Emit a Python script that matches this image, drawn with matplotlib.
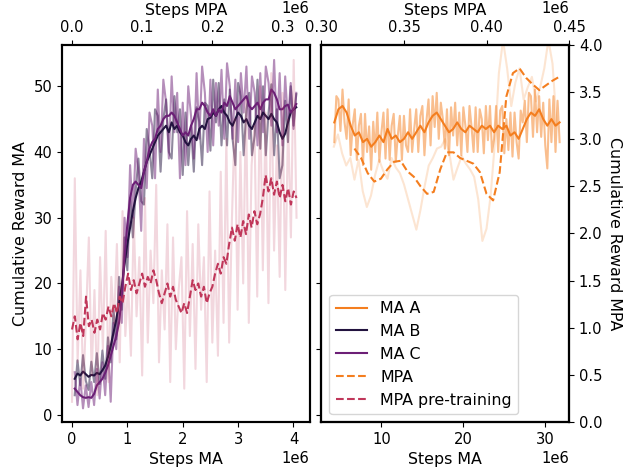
import numpy as np
import matplotlib
matplotlib.use('Agg')
import matplotlib.pyplot as plt

# ---- data (steps, rewards) ----
# left panel, MA agents (x: Steps MA, 0.05e6 .. 4.05e6)
ma_b_smooth = [5.5, 6.3, 6.0, 6.6, 6.2, 5.8, 6.1, 6.0, 6.4, 6.2,
               6.8, 7.5, 8.8, 10.5, 12.5, 14.5, 17.0, 19.5, 23.0, 26.0,
               28.5, 31.0, 33.0, 34.5, 35.5, 37.0, 38.5, 39.5, 40.5, 41.5,
               42.5, 43.0, 43.5, 44.0, 43.0, 44.5, 43.5, 44.0, 43.0, 42.5,
               41.5, 41.0, 42.0, 42.5, 41.8, 43.5, 44.0, 43.5, 45.0, 45.2,
               46.0, 45.5, 46.5, 47.0, 46.0, 45.5, 44.5, 44.0, 45.0, 46.0,
               45.5, 44.5, 45.0, 44.0, 43.5, 44.5, 45.5, 45.0, 46.0, 45.5,
               45.0, 45.8, 45.0, 44.5, 43.0, 42.0, 42.8, 44.5, 46.0, 46.5,
               46.8]
ma_b_raw = [3.0, 8.3, 4.5, 9.1, 5.2, 3.8, 8.1, 5.0, 9.4, 4.7,
            9.8, 5.5, 11.8, 8.0, 16.0, 11.5, 21.0, 16.0, 27.0, 22.0,
            33.0, 27.0, 34.0, 39.0, 32.5, 32.0, 43.5, 40.5, 36.0, 46.5,
            45.5, 37.0, 45.0, 48.0, 40.0, 39.0, 48.5, 43.0, 46.5, 36.5,
            46.0, 38.0, 44.0, 37.0, 46.8, 44.5, 38.0, 47.5, 47.0, 40.2,
            51.0, 44.5, 50.5, 41.0, 48.0, 41.0, 49.5, 42.0, 38.0, 50.5,
            48.5, 39.5, 46.5, 49.0, 39.5, 42.5, 51.0, 40.5, 50.0, 39.5,
            46.0, 50.3, 39.5, 46.5, 36.0, 38.0, 47.8, 41.5, 50.0, 44.0,
            48.8]
ma_c_smooth = [4.0, 3.5, 3.0, 2.7, 2.6, 2.7, 2.6, 3.2, 4.5, 5.0,
               5.5, 6.4, 7.5, 9.0, 10.5, 12.0, 14.0, 18.0, 24.0, 29.0,
               33.0, 35.0, 35.5, 35.0, 34.5, 37.0, 38.5, 40.5, 41.5, 42.0,
               43.5, 44.0, 45.0, 45.5, 45.5, 46.0, 45.5, 44.5, 43.5, 42.5,
               43.0, 42.5, 44.0, 45.0, 46.5, 46.5, 47.5, 47.0, 46.0, 45.5,
               46.5, 45.5, 46.5, 46.0, 47.5, 47.0, 48.5, 47.5, 46.5, 47.0,
               47.5, 48.0, 48.5, 47.0, 46.5, 47.0, 47.5, 46.5, 47.5, 48.0,
               48.0, 49.5, 49.0, 48.0, 46.5, 46.5, 47.0, 47.2, 46.0, 46.5,
               47.3]
ma_c_raw = [6.5, 1.5, 5.5, 1.0, 4.5, 1.2, 5.0, 1.5, 7.0, 2.5,
            8.0, 3.0, 10.5, 2.0, 14.0, 10.0, 19.5, 14.0, 30.0, 24.0,
            38.0, 30.0, 40.5, 37.0, 28.0, 42.0, 34.5, 46.0, 44.0, 36.0,
            49.5, 40.0, 51.0, 47.5, 39.0, 51.5, 43.0, 49.0, 36.0, 47.5,
            38.0, 50.0, 45.5, 39.0, 52.0, 42.0, 53.0, 49.0, 40.0, 51.0,
            41.0, 50.5, 44.0, 52.5, 42.0, 53.5, 50.0, 42.0, 51.0, 41.5,
            52.0, 46.0, 53.0, 42.0, 51.5, 49.0, 41.0, 52.0, 43.0, 53.0,
            50.5, 44.0, 54.0, 43.0, 52.0, 41.0, 51.5, 44.5, 50.5, 43.5,
            49.0]

# left panel, MPA pre-training (x: Steps MPA, 0 .. 0.32e6)
mpa_pre_smooth = [13.0, 15.0, 11.5, 14.0, 12.0, 18.0, 13.5, 14.5, 12.5, 14.5,
                  13.0, 15.5, 14.5, 16.5, 15.0, 17.0, 15.5, 18.0, 17.0, 19.5,
                  21.5, 19.0, 20.5, 18.5, 20.0, 21.5, 19.5, 21.0, 20.0, 22.0,
                  20.5, 18.5, 17.0, 18.5, 20.0, 18.0, 19.5, 17.5, 16.5, 15.5,
                  17.0, 15.5, 18.0, 20.5, 19.0, 20.0, 18.0, 19.5, 17.0, 18.5,
                  19.5, 21.5, 23.0, 21.5, 24.0, 23.0, 26.0, 28.5, 26.5, 29.0,
                  27.0, 29.5, 27.5, 30.5, 28.5, 31.0, 29.0, 30.5, 33.0, 36.5,
                  34.0, 36.0, 33.5, 35.5, 33.0, 35.0, 32.5, 34.5, 32.0, 34.0,
                  33.0]
mpa_pre_raw = [2, 36, 8, 22, 4, 15, 27, 6, 19, 3,
               24, 10, 28, 5, 21, 14, 26, 8, 31, 12,
               20, 9, 30, 15, 24, 6, 33, 11, 25, 17,
               35, 8, 22, 13, 29, 5, 27, 10, 19, 24,
               4, 31, 12, 26, 7, 29, 16, 24, 5, 34,
               11, 25, 9, 37, 14, 42, 11, 30, 45, 16,
               40, 20, 48, 14, 38, 44, 18, 50, 22, 46,
               17, 52, 25, 41, 21, 49, 19, 45, 27, 54,
               30]

# right panel, MA A (x: Steps MA, 4.25e6 .. 31.75e6)
ma_a_smooth = [44.5, 46.5, 47.0, 46.0, 44.0, 42.5, 43.0, 41.5, 42.0, 40.8,
               41.5, 42.5, 41.5, 43.5, 42.0, 42.5, 41.5, 42.0, 43.0, 42.0,
               43.0, 44.0, 43.0, 44.5, 45.5, 46.0, 45.0, 44.0, 43.0, 43.5,
               44.5, 43.5, 43.0, 44.0, 43.5, 43.0, 44.0, 43.5, 44.0, 43.0,
               44.0, 43.5, 44.0, 42.5, 43.0, 42.0, 43.5, 45.0, 46.0, 45.5,
               46.5, 45.0, 44.0, 45.0, 44.0, 44.5]
ma_a_raw = [41.5, 48.5, 48.0, 43.2, 49.5, 44.5, 42.0, 48.0, 39.5, 44.2,
            46.5, 38.8, 44.0, 45.8, 38.0, 45.8, 40.0, 43.9, 37.3, 44.6,
            40.0, 46.0, 38.5, 43.0, 46.0, 39.0, 46.5, 38.8, 44.0, 45.8,
            38.5, 42.5, 45.5, 38.8, 45.5, 41.0, 40.0, 46.5, 40.0, 43.5,
            46.5, 40.0, 45.5, 47.0, 39.5, 44.8, 48.0, 41.0, 48.5, 43.8,
            49.0, 42.0, 47.5, 45.0, 40.5, 46.5, 39.5, 46.8, 42.5, 47.5,
            41.0, 46.0, 39.5, 46.8, 44.0, 40.0, 47.0, 43.8, 40.0, 46.8,
            40.0, 46.5, 45.0, 39.8, 47.0, 41.8, 47.0, 40.0, 42.0, 47.0,
            40.0, 46.3, 47.0, 39.8, 45.0, 40.3, 46.0, 39.3, 46.0, 41.5,
            39.0, 46.3, 44.5, 47.8, 41.5, 49.0, 48.5, 42.3, 49.5, 43.0,
            48.5, 42.3, 47.5, 41.0, 37.5, 48.0, 41.5, 48.5, 40.0, 47.8,
            41.5]

# right panel, MPA (x: Steps MPA, right y axis)
mpa_smooth = [2.90, 2.80, 2.64, 2.55, 2.58, 2.68, 2.76, 2.77, 2.66, 2.60,
              2.50, 2.42, 2.44, 2.68, 2.86, 2.86, 2.80, 2.77, 2.74, 2.65,
              2.42, 2.35, 2.65, 3.45, 3.70, 3.75, 3.65, 3.58, 3.52, 3.57,
              3.62, 3.66]
mpa_raw = [2.92, 3.05, 2.85, 2.72, 2.80, 2.57, 2.78, 2.45, 2.28, 2.40,
           2.62, 2.78, 2.66, 2.58, 2.80, 2.70, 2.64, 2.52, 2.36, 2.20,
           2.04, 2.25, 2.50, 2.72, 2.80, 2.90, 2.92, 3.00, 2.85, 2.57,
           2.70, 2.82, 2.74, 2.68, 2.60, 2.36, 1.92, 2.05, 2.40, 2.95,
           3.70, 4.05, 3.75, 3.35, 3.60, 3.75, 3.42, 3.55, 3.66, 3.40,
           3.55, 3.75, 4.05, 3.80, 3.15]

# step axes
x_ma_b = np.linspace(0.05e6, 4.05e6, len(ma_b_smooth))
x_ma_c = np.linspace(0.05e6, 4.05e6, len(ma_c_smooth))
x_pre = np.linspace(0, 0.32e6, len(mpa_pre_smooth))
x_pre_raw = np.linspace(0, 0.32e6, len(mpa_pre_raw))
x_ma_a = np.linspace(4.25e6, 31.75e6, len(ma_a_smooth))
x_ma_a_raw = np.linspace(4.25e6, 31.75e6, len(ma_a_raw))
x_mpa = np.linspace(0.320e6, 0.444e6, len(mpa_smooth))
x_mpa_raw = np.linspace(0.3075e6, 0.4425e6, len(mpa_raw))

c_a = '#f47e1f'
c_b = '#22133f'
c_c = '#6c1f76'
c_pre = '#c0375a'

plt.rcParams['font.size'] = 11.4
plt.rcParams['xtick.labelsize'] = 10.6
plt.rcParams['ytick.labelsize'] = 10.6
plt.rcParams['axes.linewidth'] = 1.5

fig, (ax1, ax2) = plt.subplots(1, 2, sharey=True, figsize=(6.26, 4.72), dpi=100)
fig.subplots_adjust(left=0.099, right=0.909, bottom=0.106, top=0.905, wspace=0.048)

'''left panel'''
ax1.plot(x_ma_b, ma_b_raw, color=c_b, alpha=0.5)
ax1.plot(x_ma_c, ma_c_raw, color=c_c, alpha=0.5)
lb, = ax1.plot(x_ma_b, ma_b_smooth, color=c_b, label='MA B')
lc, = ax1.plot(x_ma_c, ma_c_smooth, color=c_c, label='MA C')
ax1.set_xlim(-0.18e6, 4.29e6)
ax1.set_ylim(-1.07, 56.3)
ax1.set_xticks([0, 1e6, 2e6, 3e6, 4e6])
ax1.set_xlabel('Steps MA')
ax1.set_ylabel('Cumulative Reward MA')

ax1t = ax1.twiny()
ax1t.plot(x_pre_raw, mpa_pre_raw, color=c_pre, alpha=0.2)
lp, = ax1t.plot(x_pre, mpa_pre_smooth, color=c_pre, ls='--', label='MPA pre-training')
ax1t.set_xlim(-0.0143e6, 0.3386e6)
ax1t.set_xticks([0, 0.1e6, 0.2e6, 0.3e6])
ax1t.set_xlabel('Steps MPA')

'''right panel'''
ax2.plot(x_ma_a_raw, ma_a_raw, color=c_a, alpha=0.5)
la, = ax2.plot(x_ma_a, ma_a_smooth, color=c_a, label='MA A')
ax2.set_xlim(2.68e6, 32.9e6)
ax2.set_xticks([10e6, 20e6, 30e6])
ax2.set_xlabel('Steps MA')

ax2r = ax2.twinx()
ax2r.set_ylim(0, 4.0)
ax2r.set_yticks([0, 0.5, 1.0, 1.5, 2.0, 2.5, 3.0, 3.5, 4.0])
ax2r.set_ylabel('Cumulative Reward MPA', rotation=270, labelpad=14)

ax2t = ax2r.twiny()
ax2t.plot(x_mpa_raw, mpa_raw, color=c_a, alpha=0.2)
lm, = ax2t.plot(x_mpa, mpa_smooth, color=c_a, ls='--', label='MPA')
ax2t.set_xlim(0.30e6, 0.45e6)
ax2t.set_ylim(0, 4.0)
ax2t.set_xticks([0.30e6, 0.35e6, 0.40e6, 0.45e6])
ax2t.set_xlabel('Steps MPA')

for a in [ax1, ax1t, ax2, ax2t]:
    a.ticklabel_format(axis='x', style='sci', scilimits=(6, 6))

ax2t.legend([la, lb, lc, lm, lp], ['MA A', 'MA B', 'MA C', 'MPA', 'MPA pre-training'],
            loc='lower left')

plt.savefig('out.png', dpi=100)
